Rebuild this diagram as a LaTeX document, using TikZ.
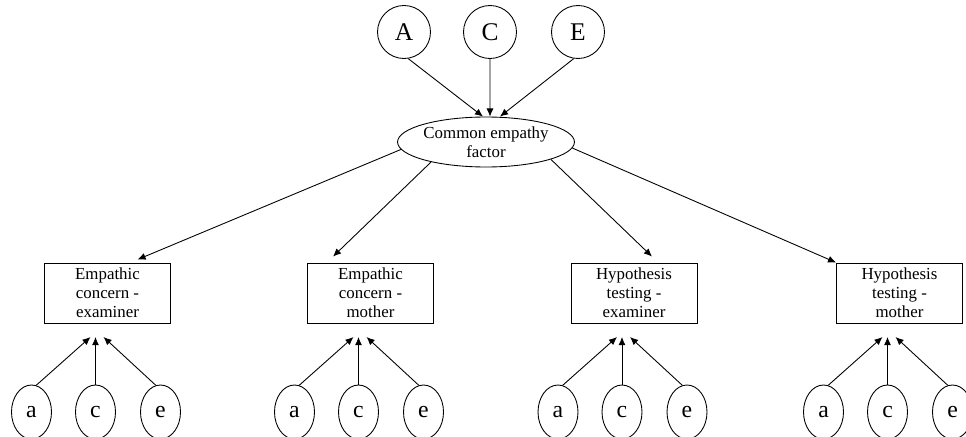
\documentclass[tikz,border=0pt]{standalone}
\usepackage{fontspec}
\setmainfont{Liberation Serif}
\usetikzlibrary{arrows.meta,shapes.geometric}

\tikzset{
  latent/.style={circle, draw, minimum size=1.06cm, inner sep=0pt, font=\fontsize{14.5}{16}\selectfont},
  small latent/.style={ellipse, draw, minimum width=0.8cm, minimum height=1.08cm, inner sep=0pt, font=\fontsize{13.5}{15}\selectfont},
  factor/.style={ellipse, draw, minimum width=3.46cm, minimum height=1cm, inner sep=0pt, align=center, font=\fontsize{9.6}{10.8}\selectfont},
  measure/.style={rectangle, draw, minimum width=2.52cm, minimum height=1.2cm, inner sep=0pt, align=center, font=\fontsize{9.6}{10.8}\selectfont},
  effect/.style={-{Latex[length=4.6pt,width=4pt]}}
}

\begin{document}
\begin{tikzpicture}[x=0.02cm, y=-0.02cm, line width=0.5pt]
    \useasboundingbox (0,0) rectangle (966,436);

    % genetic and environmental factors of the common factor
    \node[latent] (A) at (404,32) {A};
    \node[latent] (C) at (490,32) {C};
    \node[latent] (E) at (578,32) {E};
    \node[factor] (F) at (486,142) {Common empathy\\factor};
    \draw[effect] (A.-81) -- ([xshift=-0.06cm]F.north);
    \draw[effect] (C) -- ([xshift=0.08cm]F.north);
    \draw[effect] (E.-99) -- ([xshift=0.28cm]F.north);

    % measures with their specific a, c, e
    \foreach \i/\x/\txt in {1/107.5/{Empathic\\concern -\\examiner},
                            2/370.5/{Empathic\\concern -\\mother},
                            3/634/{Hypothesis\\testing -\\examiner},
                            4/899.5/{Hypothesis\\testing -\\mother}} {
        \node[measure] (b\i) at (\x,293) {\txt};
        \node[small latent] (a\i) at (\x-76,412) {a};
        \node[small latent] (c\i) at (\x-12,412) {c};
        \node[small latent] (e\i) at (\x+53,412) {e};
        \coordinate (t\i) at (\x-12,337);
        \draw[effect] (a\i.80) -- ([xshift=-0.1cm]t\i);
        \draw[effect] (c\i) -- (t\i);
        \draw[effect] (e\i.100) -- ([xshift=0.16cm]t\i);
    }

    \draw[effect] (F.185) -- ([xshift=0.6cm,yshift=0.06cm]b1.north);
    \draw[effect] (F.200) -- ([xshift=-0.75cm,yshift=0.12cm]b2.north);
    \draw[effect] (F.345) -- ([xshift=0.36cm,yshift=0.12cm]b3.north);
    \draw[effect] (F.356) -- (b4.north west);
\end{tikzpicture}
\end{document}
